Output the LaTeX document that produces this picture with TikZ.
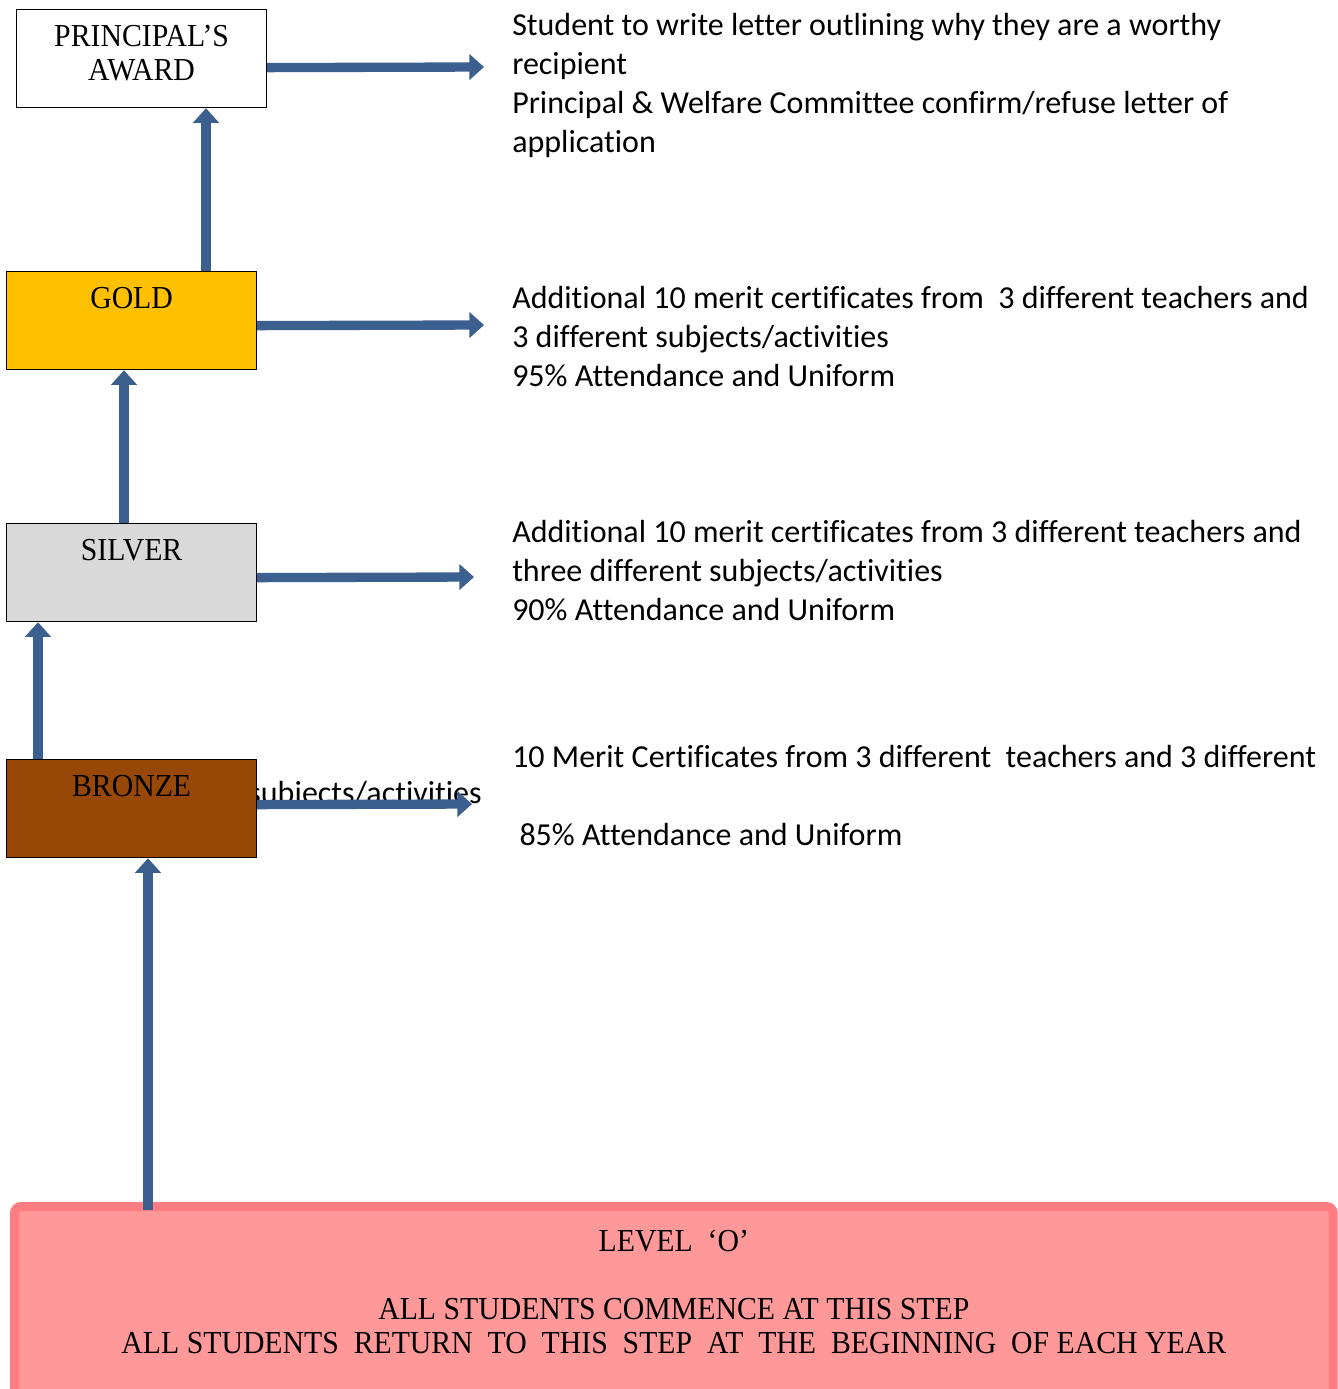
\documentclass[tikz,border=0pt]{standalone}
\usepackage{fontspec}
\setmainfont[Ligatures=NoCommon]{Carlito}
\newfontfamily\tierfont[FakeStretch=0.93]{Liberation Serif}
\usepackage{tikz}
\usetikzlibrary{positioning,arrows.meta}
\definecolor{arrowblue}{RGB}{59,95,143}
\definecolor{goldfill}{RGB}{255,192,0}
\definecolor{silverfill}{RGB}{217,217,217}
\definecolor{bronzefill}{RGB}{151,72,6}
\definecolor{levelfill}{RGB}{255,153,153}
\definecolor{levelline}{RGB}{255,124,128}
\tikzset{
  tier/.style={draw=black,line width=0.9pt,minimum width=187.5pt,minimum height=73.5pt,anchor=north west,inner sep=0pt},
  tiername/.style={font=\tierfont\fontsize{24}{25.5}\selectfont,align=center,inner sep=0pt,anchor=north,yshift=-12pt},
  crit/.style={font=\fontsize{24}{29.25}\selectfont,align=left,anchor=north west,inner sep=0pt},
  ar/.style={-{Triangle[length=11pt,width=19pt]},line width=7pt,arrowblue},
}

\begin{document}
\begin{tikzpicture}[x=0.75pt,y=-0.75pt]
  \useasboundingbox (0,0) rectangle (1338,1389);
  % criteria text, right column
  \node[crit] (ptxt) at (512,13) {Student to write letter outlining why they are a worthy\\recipient\\Principal \& Welfare Committee confirm/refuse letter of\\application};
  \node[crit] (gtxt) at (512,286) {Additional 10 merit certificates from~ 3 different teachers and\\3 different subjects/activities\\95\% Attendance and Uniform};
  \node[crit] (stxt) at (512,520) {Additional 10 merit certificates from 3 different teachers and\\three different subjects/activities\\90\% Attendance and Uniform};
  \node[crit] (btxt) at (512,745) {10 Merit Certificates from 3 different~ teachers and 3 different\\[29.25pt]\ 85\% Attendance and Uniform};
  \node[crit,anchor=base east] (bover) at (482,803) {subjects/activities};
  % award steps
  \node[tier,fill=white,label={[tiername]north:{PRINCIPAL’S\\AWARD}}] (prin) at (16,9) {};
  \node[tier,fill=goldfill,label={[tiername]north:GOLD}] (gold) at (6,271) {};
  \node[tier,fill=silverfill,label={[tiername]north:SILVER}] (silver) at (6,523) {};
  \node[tier,fill=bronzefill,label={[tiername]north:BRONZE}] (bronze) at (6,759) {};
  \node[draw=levelline,line width=6.75pt,fill=levelfill,rounded corners=5pt,anchor=north west,
        minimum width=989pt,minimum height=187.5pt,
        label={[tiername,yshift=-9pt]north:{LEVEL~ ‘O’\\[25.5pt]ALL STUDENTS COMMENCE AT THIS STEP\\ALL STUDENTS~ RETURN~ TO~ THIS~ STEP~ AT~ THE~ BEGINNING~ OF EACH YEAR}}] (level) at (10,1202) {};
  % arrow ends
  \coordinate (pend) at (484,67);
  \coordinate (gend) at (484,325);
  \coordinate (send) at (474,577);
  \coordinate (bend) at (472,804);
  \draw[ar] ([yshift=-6.75pt]prin.east) -- (pend);
  \draw[ar] ([yshift=-3.75pt]gold.east) -- (gend);
  \draw[ar] ([yshift=-3.75pt]silver.east) -- (send);
  \draw[ar] ([yshift=3pt]bronze.east) -- (bend);
  % climbing the steps
  \draw[ar] ([xshift=150pt]gold.north west) -- ([xshift=150pt]gold.north west |- prin.south);
  \draw[ar] ([xshift=88.5pt]silver.north west) -- ([xshift=88.5pt]silver.north west |- gold.south);
  \draw[ar] ([xshift=24pt]bronze.north west) -- ([xshift=24pt]bronze.north west |- silver.south);
  \draw[ar] ([xshift=103.5pt,yshift=-6pt]level.north west) -- ([xshift=103.5pt]level.north west |- bronze.south);
\end{tikzpicture}
\end{document}
